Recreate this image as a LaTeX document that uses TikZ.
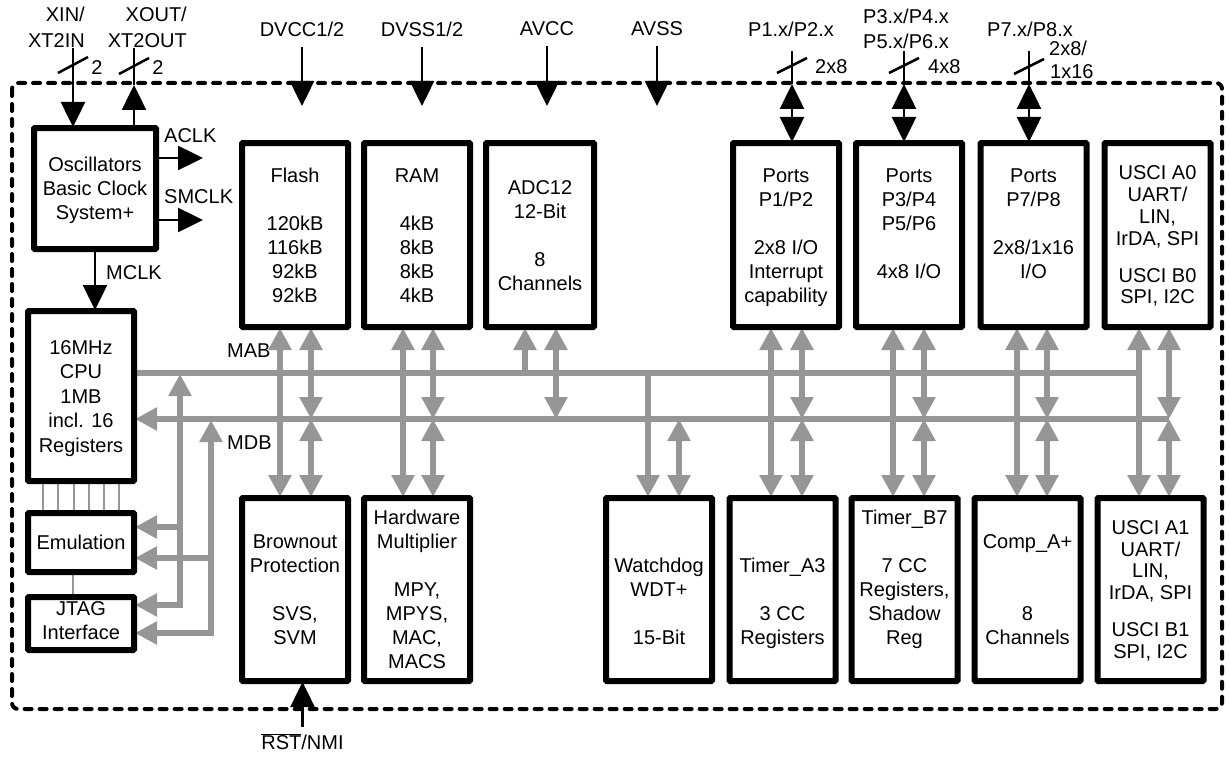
\documentclass[tikz,border=0pt]{standalone}
\usepackage{fontspec}
\setmainfont{Liberation Sans}
\usetikzlibrary{arrows.meta}
\definecolor{busgray}{RGB}{150,150,150}
\newcommand{\blktxt}[1]{\begin{tabular}{@{}c@{}}#1\end{tabular}}
\tikzset{
  box/.style={draw=black, line width=4pt, fill=white, rounded corners=1.5pt, inner sep=0pt},
  txt/.style={inner sep=0pt, font=\fontsize{20}{24}\selectfont, yshift=-2.5pt},
  lbl/.style={inner sep=0pt, font=\fontsize{20}{24}\selectfont},
  blk/.style={draw=black, line width=2.5pt},
  btip/.tip={Triangle[width=24pt,length=25pt]},
  gtip/.tip={Triangle[width=22pt,length=22pt]},
  bus/.style={draw=busgray, line width=6pt},
  wire/.style={draw=busgray, line width=2pt},
  border/.style={draw=black, line width=4pt, dash pattern=on 7pt off 8pt, line cap=round, rounded corners=6pt},
  topbox/.style={box, minimum width=104pt, minimum height=182pt},
  botbox/.style={box, minimum width=104pt, minimum height=181pt},
}
\begin{document}
\begin{tikzpicture}[x=1pt,y=-1pt]
\useasboundingbox (0,0) rectangle (1230,757);
% border
\draw[border] (12,83) rectangle (1222,709);

% boxes
\node[box, minimum width=120pt, minimum height=119pt] (osc) at (95,188.5) {};
\node[box, minimum width=104pt, minimum height=168pt] (cpu) at (81,396) {};
\node[box, minimum width=104pt, minimum height=57pt] (emu) at (81,542.5) {};
\node[box, minimum width=104pt, minimum height=51pt] (jtag) at (81,623.5) {};
\node[topbox] (flash) at (295,235) {};
\node[topbox] (ram) at (417,235) {};
\node[topbox, minimum width=106pt] (adc) at (540,235) {};
\node[topbox] (p12) at (786,235) {};
\node[topbox] (p34) at (909,235) {};
\node[topbox] (p78) at (1033.5,235) {};
\node[topbox] (uscia0) at (1157.5,235) {};
\node[botbox] (brown) at (295,589.5) {};
\node[botbox] (hwmul) at (417,589.5) {};
\node[botbox] (wdt) at (659,589.5) {};
\node[botbox] (ta3) at (782.5,589.5) {};
\node[botbox] (tb7) at (904.5,589.5) {};
\node[botbox] (comp) at (1027.5,589.5) {};
\node[botbox] (uscia1) at (1150.5,589.5) {};

% buses
\draw[bus] (cpu.east |- 0,373) -- (1139,373);
\draw[bus, {gtip}-] (cpu.east |- 0,419) -- (1169,419);
\draw[bus, {gtip}-{gtip}] (jtag.east |- 0,605) -| (180,374);
\draw[bus, {gtip}-] (emu.east |- 0,527) -- (180,527);
\draw[bus, {gtip}-{gtip}] (jtag.east |- 0,633) -| (211,420);
\draw[bus, {gtip}-] (emu.east |- 0,558) -- (211,558);
% module bus connections
\foreach \top/\bot/\xa/\xb in {flash/brown/280/311, ram/hwmul/403/433, p12/ta3/771/802, p34/tb7/893/924, p78/comp/1017/1047, uscia0/uscia1/1139/1169}{
  \draw[bus, {gtip}-{gtip}] (\top.south -| \xa,0) -- (\bot.north -| \xa,0);
  \draw[bus, {gtip}-{gtip}] (\top.south -| \xb,0) -- (\xb,419);
  \draw[bus, {gtip}-{gtip}] (\xb,419) -- (\bot.north -| \xb,0);
}
\draw[bus, -{gtip}] (525,373) -- (adc.south -| 525,0);
\draw[bus, {gtip}-{gtip}] (adc.south -| 556,0) -- (556,419);
\draw[bus, -{gtip}] (648,373) -- (wdt.north -| 648,0);
\draw[bus, {gtip}-{gtip}] (679,419) -- (wdt.north -| 679,0);
% thin wires
\foreach \x in {43,58,74,89,104,119}{\draw[wire] (cpu.south -| \x,0) -- (emu.north -| \x,0);}
\draw[wire] (emu.south -| 73,0) -- (jtag.north -| 73,0);

% redraw box outlines on top of bus ends
\foreach \n in {osc,cpu,emu,jtag,flash,ram,adc,p12,p34,p78,uscia0,brown,hwmul,wdt,ta3,tb7,comp,uscia1}{
  \draw[black, line width=4pt, rounded corners=1.5pt] (\n.north west) rectangle (\n.south east);
}

% box texts
\node[txt] (osct) at (osc.center) {\blktxt{Oscillators\\Basic Clock\\System+}};
\node[txt, font=\fontsize{20}{24.5}\selectfont] (cput) at (cpu.center) {\blktxt{16MHz\\CPU\\1MB\\incl. 16\\Registers}};
\node[txt] (emut) at (81,542.5) {\blktxt{Emulation}};
\node[txt] (jtagt) at (81,620.5) {\blktxt{JTAG\\Interface}};
\node[txt] (flasht) at (flash.center) {\blktxt{Flash\\ \\120kB\\116kB\\92kB\\92kB}};
\node[txt] (ramt) at (ram.center) {\blktxt{RAM\\ \\4kB\\8kB\\8kB\\4kB}};
\node[txt] (adct) at (adc.center) {\blktxt{ADC12\\12-Bit\\ \\8\\Channels}};
\node[txt] (p12t) at (p12.center) {\blktxt{Ports\\P1/P2\\ \\2x8 I/O\\Interrupt\\capability}};
\node[txt] (p34t) at (p34.center) {\blktxt{Ports\\P3/P4\\P5/P6\\ \\4x8 I/O\\ \mbox{}}};
\node[txt] (p78t) at (p78.center) {\blktxt{Ports\\P7/P8\\ \\2x8/1x16\\I/O\\ \mbox{}}};
\node[txt, font=\fontsize{20}{21.7}\selectfont] (uscia0t) at (uscia0.center) {\blktxt{USCI A0\\UART/\\LIN,\\IrDA, SPI\\[15.3pt]USCI B0\\SPI, I2C}};
\node[txt] (brownt) at (brown.center) {\blktxt{Brownout\\Protection\\ \\SVS,\\SVM}};
\node[txt] (hwmult) at (hwmul.center) {\blktxt{Hardware\\Multiplier\\ \\MPY,\\MPYS,\\MAC,\\MACS}};
\node[txt] (wdtt) at (659,601.5) {\blktxt{Watchdog\\WDT+\\ \\15-Bit}};
\node[txt] (ta3t) at (782.5,601.5) {\blktxt{Timer\_A3\\ \\3 CC\\Registers}};
\node[txt] (tb7t) at (904.5,577.5) {\blktxt{Timer\_B7\\ \\7 CC\\Registers,\\Shadow\\Reg}};
\node[txt] (compt) at (comp.center) {\blktxt{Comp\_A+\\ \\ \\8\\Channels}};
\node[txt, font=\fontsize{20}{21.7}\selectfont] (uscia1t) at (uscia1.center) {\blktxt{USCI A1\\UART/\\LIN,\\IrDA, SPI\\[15.3pt]USCI B1\\SPI, I2C}};

% bus labels
\node[lbl, anchor=west] (mab) at (227,350.5) {MAB};
\node[lbl, anchor=west] (mdb) at (227,442.5) {MDB};

% clock signals
\coordinate (aclkend) at (203,158);
\coordinate (smclkend) at (203,220);
\draw[blk, -{btip}] (osc.east |- aclkend) -- (aclkend);
\draw[blk, -{btip}] (osc.east |- smclkend) -- (smclkend);
\node[lbl, anchor=west] (aclk) at (164,135.5) {ACLK};
\node[lbl, anchor=west] (smclk) at (164,196.5) {SMCLK};
\draw[blk, -{btip}] (osc.south) -- (cpu.north -| osc.south);
\node[lbl, anchor=west] (mclk) at (106,273) {MCLK};

% XIN / XOUT
\node[lbl, align=right, anchor=east] (xin) at (85,27.5) {XIN/\\[2pt]XT2IN};
\node[lbl, align=right, anchor=east] (xout) at (187,27.5) {XOUT/\\[2pt]XT2OUT};
\draw[blk, -{btip}] (xin.south -| 73,0) -- (osc.north -| 73,0);
\draw[blk, -{btip}] (osc.north -| 134,0) -- (134,85);
\draw[blk] (134,85) -- (xout.south -| 134,0);
\draw[blk] (58,73) -- (88,57);
\draw[blk] (119,74) -- (149,58);
\node[lbl] (n2a) at (97,67.5) {2};
\node[lbl] (n2b) at (158,67.5) {2};

% supply pins
\node[lbl] (dvcc) at (302,29) {DVCC1/2};
\node[lbl] (dvss) at (422,29) {DVSS1/2};
\node[lbl] (avcc) at (547,29) {AVCC};
\node[lbl] (avss) at (657,29) {AVSS};
\foreach \n in {dvcc,dvss,avcc,avss}{
  \draw[blk, -{btip}] ([yshift=-10pt]\n.south) -- (\n.south |- 0,106);
}

% port pins
\node[lbl] (p12pin) at (791,29) {P1.x/P2.x};
\node[lbl, align=center] (p34pin) at (906,28.5) {P3.x/P4.x\\[1pt]P5.x/P6.x};
\node[lbl] (p78pin) at (1030,29) {P7.x/P8.x};
\coordinate (p12a) at (792,51);
\coordinate (p34a) at (904,51);
\coordinate (p78a) at (1029,51);
\foreach \c/\n in {p12a/p12, p34a/p34, p78a/p78}{
  \draw[blk] (\c) -- (\c |- 0,84);
  \draw[blk, {btip}-{btip}] (\c |- 0,84) -- (\n.north -| \c);
}
\draw[blk] (777,73) -- (807,58);
\draw[blk] (889,73) -- (919,58);
\draw[blk] (1014,74) -- (1044,59);
\node[lbl, anchor=west] (w12) at (815,66.5) {2x8};
\node[lbl, anchor=west] (w34) at (928,66.5) {4x8};
\node[lbl, anchor=west] (w78a) at (1049,48.5) {2x8/};
\node[lbl, anchor=west] (w78b) at (1050,71.5) {1x16};

% reset
\node[lbl] (rst) at (302.5,742) {$\overline{\mbox{RST}}$/NMI};
\draw[blk, -{btip}] (rst.north |- 0,727) -- (brown.south -| rst.north);
\end{tikzpicture}
\end{document}
